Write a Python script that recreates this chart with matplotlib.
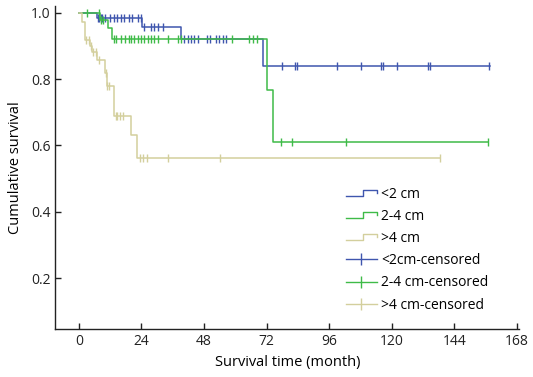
import numpy as np
import matplotlib
matplotlib.use('Agg')
import matplotlib.pyplot as plt
from matplotlib.lines import Line2D
from matplotlib.legend_handler import HandlerBase

plt.rcParams['font.family'] = ['Open Sans', 'DejaVu Sans']

# ---------- data ----------
blue_t = [0, 7, 24.2, 39, 70.7]
blue_s = [1.0, 0.985, 0.957, 0.92, 0.84]
blue_end = 157.5
blue_cens = [7.3, 7.8, 8.3, 9, 10, 11.9, 13.4, 14.7, 16.2, 17.4, 19.2, 20.4, 22.6, 23.8,
             25, 27.6, 28.9, 30.2, 32.1,
             40.4, 41.7, 43, 44.2, 45.5, 49, 50.2, 52.5, 53.8, 55.1, 56.4,
             77.7, 82.9, 83.5, 98.8, 108.2, 115.7, 116.7, 121.9, 133.8, 134.6, 157.4]

green_t = [0, 8, 11, 12.5, 72, 74.5]
green_s = [1.0, 0.978, 0.955, 0.92, 0.766, 0.61]
green_end = 157
green_cens = [3.2, 7.7, 8.5, 9.2,
              13.5, 14.3, 16, 17.8, 19.1, 20, 21, 22.5, 23.8, 25, 26.4, 27.6, 28.9, 30.2,
              34, 37.9, 39.1, 58.6, 65.3, 66.9, 68.4,
              77.5, 81.8, 102.4, 157]

beige_t = [0, 1, 2.2, 4.2, 5.1, 7, 9.9, 10.8, 13.4, 19.9, 22.1]
beige_s = [1.0, 0.972, 0.917, 0.9, 0.88, 0.857, 0.818, 0.78, 0.687, 0.63, 0.562]
beige_end = 138.5
beige_cens = [2.9, 3.8, 4.6, 5.5, 6.4, 7.7, 10.5, 10.9, 11.5, 14.1, 14.7, 15.7, 17,
              23.4, 24.7, 26, 34.2, 54.1, 138.5]

labels = ['<2 cm', '2-4 cm', '>4 cm', '<2cm-censored', '2-4 cm-censored', '>4 cm-censored']
x_ticks = [0, 24, 48, 72, 96, 120, 144, 168]
y_ticks = [0.2, 0.4, 0.6, 0.8, 1.0]

BLUE = '#3f56ae'
GREEN = '#3fbb48'
BEIGE = '#d3cf9d'


class StepHandler(HandlerBase):
    # little step icon like SPSS legends
    def create_artists(self, legend, orig_handle, xdescent, ydescent,
                       width, height, fontsize, trans):
        x0, y0 = -xdescent, -ydescent
        low = y0 + height * 0.2
        high = y0 + height * 0.8
        mid = y0 + height * 0.5
        xs = [x0, x0 + width * 0.55, x0 + width * 0.55, x0 + width, x0 + width]
        ys = [low, low, high, high, mid]
        ln = Line2D(xs, ys, color=orig_handle.get_color(), lw=1.0, transform=trans)
        return [ln]


fig = plt.figure(figsize=(5.33, 3.77), dpi=100)
ax = fig.add_axes([0.104, 0.127, 0.870, 0.857])

handles = []
for t, s, end, cens, col in [(blue_t, blue_s, blue_end, blue_cens, BLUE),
                             (green_t, green_s, green_end, green_cens, GREEN),
                             (beige_t, beige_s, beige_end, beige_cens, BEIGE)]:
    tt = list(t) + [end]
    ss = list(s) + [s[-1]]
    h, = ax.step(tt, ss, where='post', color=col, lw=1.1)
    handles.append(h)
    idx = np.searchsorted(t, cens, side='right') - 1
    ax.plot(cens, np.array(s)[idx], ls='none', marker='|', ms=6, mew=1.0, color=col)

cens_handles = [Line2D([], [], color=c, lw=1.0, marker='|', ms=9, mew=1.0)
                for c in (BLUE, GREEN, BEIGE)]

ax.set_xlim(-9, 168.8)
ax.set_ylim(0.046, 1.02)
ax.set_xticks(x_ticks)
ax.set_yticks(y_ticks)
ax.set_yticklabels([f'{v:.1f}' for v in y_ticks])
ax.spines['top'].set_visible(False)
ax.spines['right'].set_visible(False)
for sp in ('left', 'bottom'):
    ax.spines[sp].set_linewidth(1.0)
    ax.spines[sp].set_color('#222222')
ax.tick_params(direction='in', length=4, width=1.0, labelsize=10, colors='#222222')
ax.set_xlabel('Survival time (month)', fontsize=10.5)
ax.set_ylabel('Cumulative survival', fontsize=10.5, labelpad=6)

ax.legend(handles + cens_handles, labels,
          handler_map={h: StepHandler() for h in handles},
          loc='upper left', bbox_to_anchor=(0.60, 0.48), frameon=False,
          fontsize=10, handlelength=2.2, handletextpad=0.3, labelspacing=0.52)

fig.savefig('out.png', dpi=100)
